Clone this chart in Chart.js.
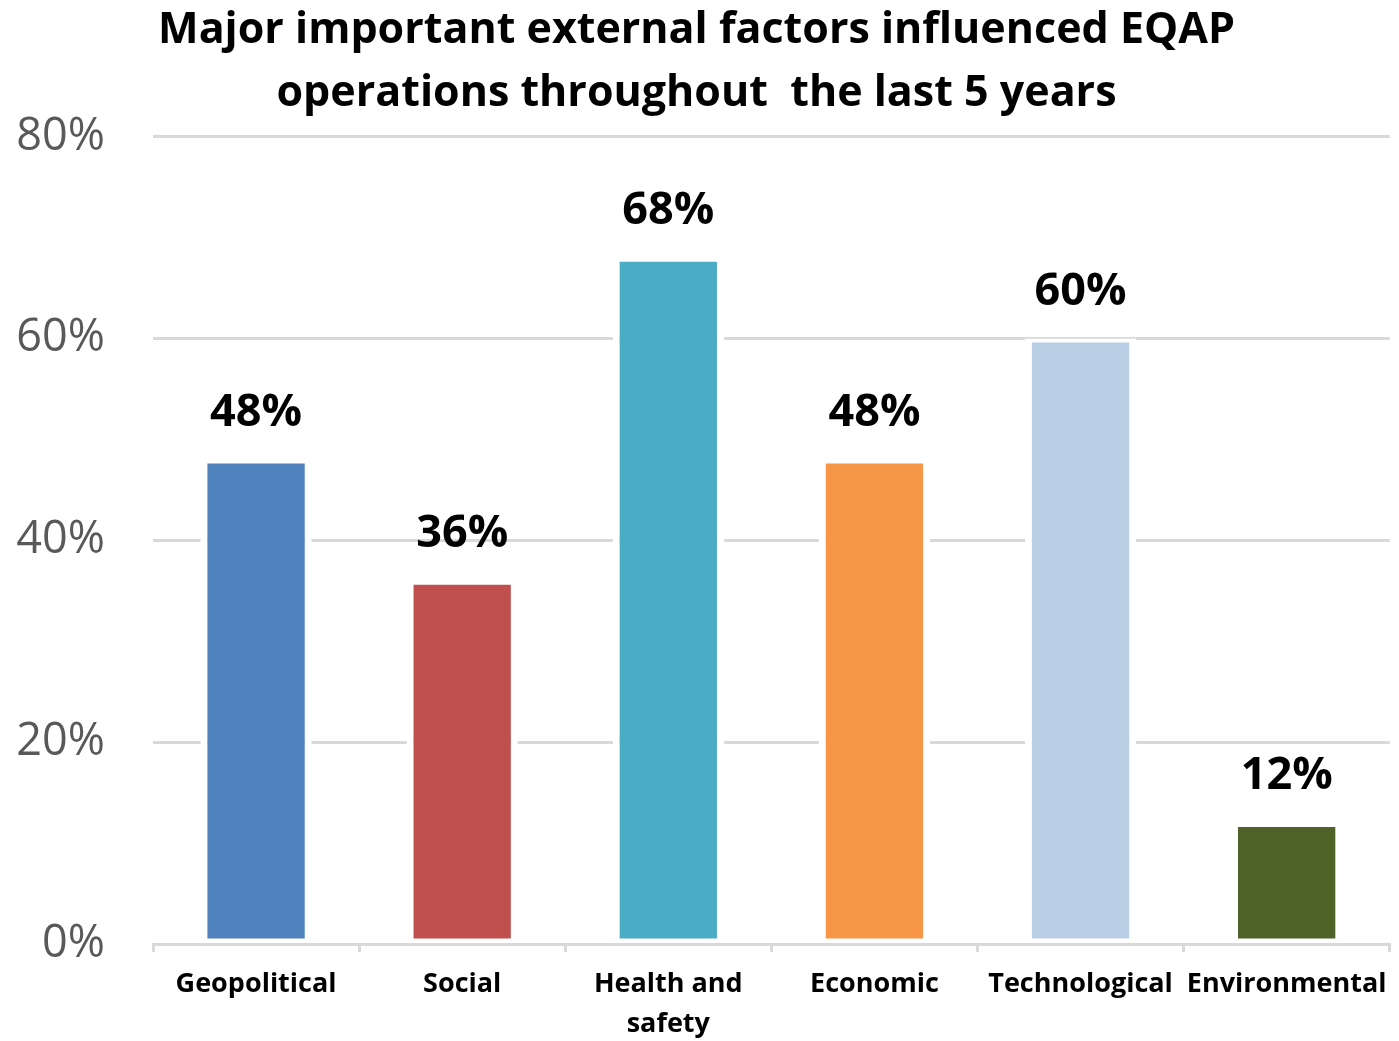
<!DOCTYPE html>
<html>
<head>
<meta charset="utf-8">
<script src="https://cdn.jsdelivr.net/npm/chart.js@4"></script>
<style>
  html, body { margin: 0; padding: 0; background: #fff; }
  #wrap { width: 1399px; height: 1041px; }
</style>
</head>
<body>
<div id="wrap"><canvas id="factorsChart"></canvas></div>
<script>
// chart data
var categories = ['Geopolitical', 'Social', ['Health and', 'safety'], 'Economic', 'Technological', 'Environmental'];
var shares = [0.48, 0.36, 0.68, 0.48, 0.60, 0.12];
var barColors = ['#4f81bd', '#c0504d', '#4bacc6', '#f79646', '#b9cde5', '#4f6228'];
var yTicks = [0, 0.2, 0.4, 0.6, 0.8];

var fontFamily = '"Open Sans", "Noto Sans", sans-serif';

// simple value labels above each bar
var valueLabels = {
    id: 'valueLabels',
    afterDatasetsDraw: function(chart) {
        var ctx = chart.ctx;
        var meta = chart.getDatasetMeta(0);
        ctx.save();
        ctx.font = 'bold 45px ' + fontFamily;
        ctx.fillStyle = '#000';
        ctx.textAlign = 'center';
        ctx.textBaseline = 'alphabetic';
        meta.data.forEach(function(bar, i) {
            ctx.fillText(Math.round(shares[i] * 100) + '%', bar.x, bar.y - 34);
        });
        ctx.restore();
    }
};

var ctx = document.getElementById('factorsChart').getContext('2d');
new Chart(ctx, {
    type: 'bar',
    data: {
        labels: categories,
        datasets: [{
            data: shares,
            backgroundColor: barColors,
            borderColor: '#ffffff',
            borderWidth: { top: 4, bottom: 4, left: 7, right: 7 },
            borderSkipped: false,
            barPercentage: 0.54,
            categoryPercentage: 1
        }]
    },
    options: {
        responsive: true,
        maintainAspectRatio: false,
        animation: false,
        layout: { padding: { left: 0, right: 6, top: 0, bottom: 0 } },
        plugins: {
            legend: { display: false },
            tooltip: { enabled: false },
            title: {
                display: true,
                text: ['Major important external factors influenced EQAP', 'operations throughout  the last 5 years'],
                color: '#000',
                font: { family: fontFamily, size: 43, weight: 'bold', lineHeight: 1.45 },
                padding: { top: 0, bottom: 12 }
            }
        },
        scales: {
            y: {
                min: 0,
                max: 0.8,
                afterBuildTicks: function(axis) {
                    axis.ticks = yTicks.map(function(v) { return { value: v }; });
                },
                afterFit: function(axis) { axis.width = 153; },
                border: { display: false },
                grid: { color: '#d9d9d9', lineWidth: 3, drawTicks: false },
                ticks: {
                    color: '#595959',
                    padding: 48,
                    font: { family: fontFamily, size: 45 },
                    callback: function(v) { return Math.round(v * 100) + '%'; }
                }
            },
            x: {
                afterFit: function(axis) { axis.height = 97; },
                border: { display: true, color: '#d9d9d9', width: 3 },
                grid: { offset: true, drawOnChartArea: false, color: '#d9d9d9', lineWidth: 3, tickLength: 8 },
                ticks: {
                    color: '#000',
                    padding: 12,
                    maxRotation: 0,
                    autoSkip: false,
                    font: { family: fontFamily, size: 27, weight: 'bold', lineHeight: 1.5 }
                }
            }
        }
    },
    plugins: [valueLabels]
});
</script>
</body>
</html>
